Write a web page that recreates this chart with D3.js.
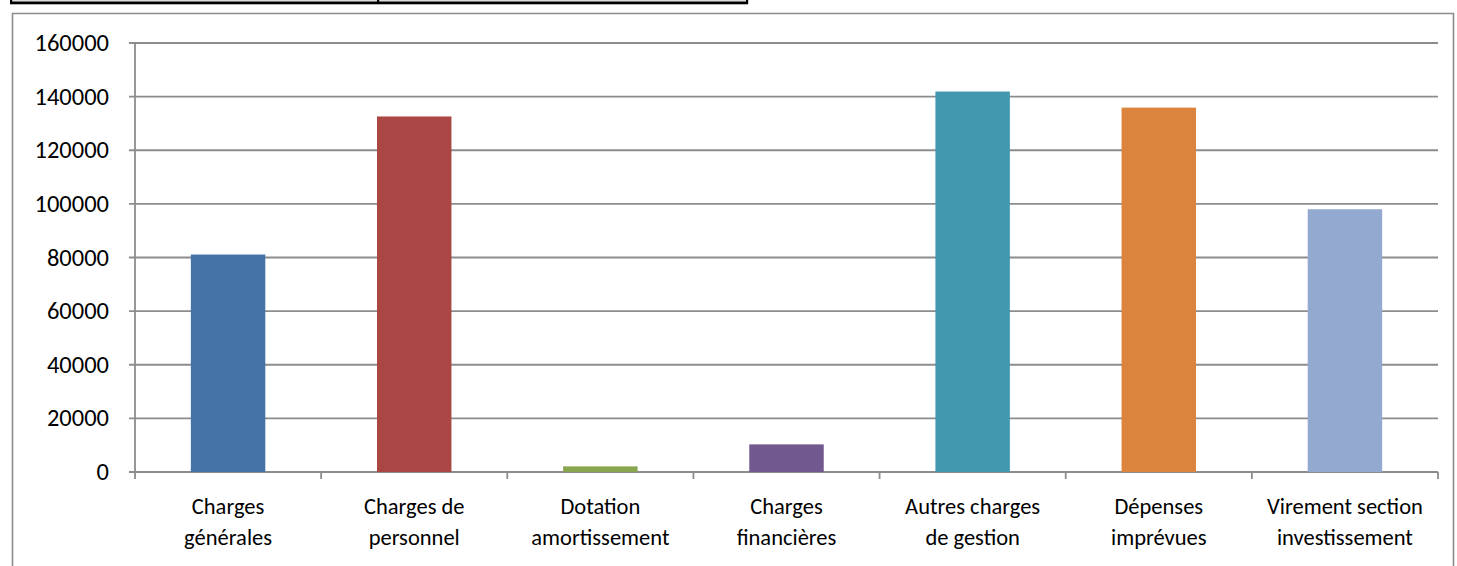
<!DOCTYPE html>
<html>
<head>
<meta charset="utf-8">
<script src="https://cdn.jsdelivr.net/npm/d3@7"></script>
<style>
  body { margin: 0; background: #fff; }
  svg text { font-family: Carlito, Calibri, Lato, sans-serif; fill: #000; }
</style>
</head>
<body>
<svg width="1457" height="566"></svg>
<script>
// categories, each split into two label lines
const categories = [
  'Charges générales',
  'Charges de personnel',
  'Dotation amortissement',
  'Charges financières',
  'Autres charges de gestion',
  'Dépenses imprévues',
  'Virement section investissement'
];
const labelLines = [
  ['Charges', 'générales'],
  ['Charges de', 'personnel'],
  ['Dotation', 'amortissement'],
  ['Charges', 'financières'],
  ['Autres charges', 'de gestion'],
  ['Dépenses', 'imprévues'],
  ['Virement section', 'investissement']
];
const values = [81100, 132600, 2100, 10300, 141900, 135900, 98000];
const barColors = ['#4572A7', '#AA4643', '#89A54E', '#71588F', '#4198AF', '#DB843D', '#93A9CF'];
const yTicks = [0, 20000, 40000, 60000, 80000, 100000, 120000, 140000, 160000];

const svg = d3.select('svg');
const plotLeft = 135, plotRight = 1438, plotTop = 43, plotBottom = 472;
const gridColor = '#8c8c8c';

// table borders above the chart
svg.append('rect').attr('x', 10).attr('y', 0).attr('width', 738).attr('height', 1.5).attr('fill', '#dcdcdc');
svg.append('rect').attr('x', 10).attr('y', 1.5).attr('width', 738).attr('height', 2.8).attr('fill', '#000');
[10, 377, 746].forEach(x => {
  svg.append('rect').attr('x', x).attr('y', 0).attr('width', 2.2).attr('height', 4).attr('fill', '#000');
});

// chart frame
svg.append('path')
  .attr('d', 'M12.5,566 V13.5 H1453.5 V566')
  .attr('fill', 'none')
  .attr('stroke', gridColor)
  .attr('stroke-width', 1.6);

const x = d3.scaleBand().domain(categories).range([plotLeft, plotRight]).paddingInner(0.6).paddingOuter(0.3);
const xb = d3.scaleBand().domain(categories).range([plotLeft, plotRight]);
const y = d3.scaleLinear().domain([0, 160000]).range([plotBottom, plotTop]);

// gridlines
svg.append('g')
  .selectAll('line')
  .data(yTicks)
  .enter()
  .append('line')
  .attr('x1', plotLeft - 6)
  .attr('x2', plotRight)
  .attr('y1', d => y(d))
  .attr('y2', d => y(d))
  .attr('stroke', gridColor)
  .attr('stroke-width', 1.8);

// y axis line
svg.append('line')
  .attr('x1', plotLeft).attr('x2', plotLeft)
  .attr('y1', plotTop).attr('y2', plotBottom)
  .attr('stroke', gridColor).attr('stroke-width', 1.8);

// x ticks at category boundaries
const bounds = categories.map(c => xb(c)).concat([plotRight]);
svg.append('g')
  .selectAll('line')
  .data(bounds)
  .enter()
  .append('line')
  .attr('x1', d => d).attr('x2', d => d)
  .attr('y1', plotBottom).attr('y2', plotBottom + 7)
  .attr('stroke', gridColor).attr('stroke-width', 1.8);

// bars
svg.append('g')
  .selectAll('rect')
  .data(values)
  .enter()
  .append('rect')
  .attr('x', (_, i) => x(categories[i]))
  .attr('width', x.bandwidth())
  .attr('y', d => y(d))
  .attr('height', d => plotBottom - y(d))
  .attr('fill', (_, i) => barColors[i]);

// y labels
svg.append('g')
  .selectAll('text')
  .data(yTicks)
  .enter()
  .append('text')
  .attr('x', 109)
  .attr('y', d => y(d) + 8)
  .attr('text-anchor', 'end')
  .style('font-size', '24.5px')
  .text(d => d);

// x labels
const lbl = svg.append('g')
  .selectAll('text')
  .data(labelLines)
  .enter()
  .append('text')
  .attr('text-anchor', 'middle')
  .style('font-size', '22.5px')
  .attr('transform', (_, i) => `translate(${xb(categories[i]) + xb.bandwidth() / 2}, 0)`);
lbl.append('tspan').attr('x', 0).attr('y', 514).text(d => d[0]);
lbl.append('tspan').attr('x', 0).attr('y', 545).text(d => d[1]);
</script>
</body>
</html>
